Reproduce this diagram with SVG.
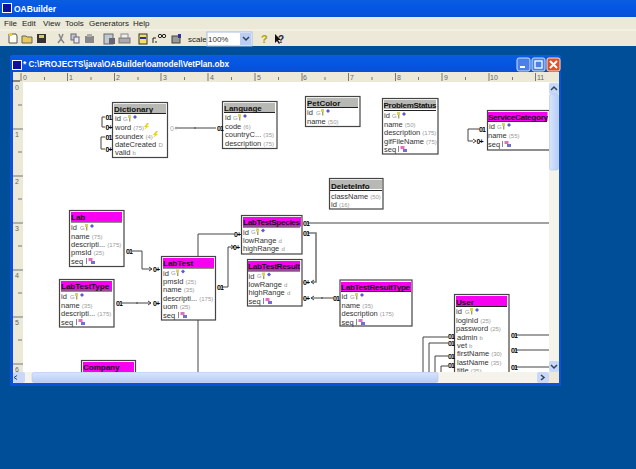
<svg xmlns="http://www.w3.org/2000/svg" xmlns:xlink="http://www.w3.org/1999/xlink" width="636" height="469" viewBox="0 0 636 469">
<style>
text{font-family:"Liberation Sans",Arial,sans-serif}
.box{fill:#fff;stroke:#444;stroke-width:1.2}
.hg{fill:#b8b8b4}.hm{fill:#f800f0}
.hl{stroke:#222;stroke-width:1}
.h{font-size:8px;font-weight:700;fill:#111}
.r{font-size:7.5px;fill:#333}
.s{font-size:6px;fill:#999}
.c{fill:none;stroke:#444;stroke-width:1}
.k{font-size:7px;font-weight:700;fill:#000;letter-spacing:-1px}
.m{font-size:8px;fill:#222}
.t{fill:#666;font-size:7px}
.tick{stroke:#777;stroke-width:1}
</style>
<defs>
<linearGradient id="tb" x1="0" y1="0" x2="0" y2="1"><stop offset="0" stop-color="#0a5ce0"/><stop offset=".5" stop-color="#0456e4"/><stop offset="1" stop-color="#0a4fd0"/></linearGradient>
<linearGradient id="sb" x1="0" y1="0" x2="0" y2="1"><stop offset="0" stop-color="#d8e4fb"/><stop offset="1" stop-color="#b6ccf6"/></linearGradient>
<linearGradient id="sv" x1="0" y1="0" x2="1" y2="0"><stop offset="0" stop-color="#d8e4fb"/><stop offset="1" stop-color="#b6ccf6"/></linearGradient>
<g id="pk"><text class="s" x="0" y="2.5" font-size="6">G</text><rect x="5" y="-3" width="3" height="3" fill="#d8d060"/><rect x="6" y="0" width="1.4" height="3.5" fill="#a8a060"/><path d="M10-1l2-2 2 2-2 2z" fill="#5a5ad0"/></g>
<g id="seq"><rect x="0" y="-3" width="1" height="6" fill="#888"/><rect x="2.5" y="-3" width="4" height="3" fill="#e070c0"/><rect x="5" y="0" width="4" height="3" fill="#7070d0"/></g>
<path id="bolt" d="M3-4L0 0h2L0 3 5-1H3l2-3z" fill="#e8d020"/>
<g id="icon"><rect width="10" height="10" fill="#fff"/><rect x="1" y="1" width="4" height="4" fill="#1010a0"/><rect x="5" y="1" width="4" height="4" fill="#1010a0"/><rect x="1" y="5" width="8" height="4" fill="#1010a0"/></g>
</defs>

<rect width="636" height="469" fill="#004e98"/>
<rect width="636" height="17" fill="url(#tb)"/>
<use xlink:href="#icon" x="2" y="3"/>
<text x="14" y="12" font-size="8.500" font-weight="700" fill="#fff">OABuilder</text>
<rect y="17" width="636" height="29" fill="#ece9d8"/>
<line x1="0" y1="30" x2="636" y2="30" stroke="#f8f6ee"/>
<text class="m" x="4" y="26">File</text><text class="m" x="22" y="26">Edit</text><text class="m" x="43" y="26">View</text><text class="m" x="65" y="26">Tools</text><text class="m" x="89" y="26">Generators</text><text class="m" x="133" y="26">Help</text>

<g id="toolbar">
<path d="M10 34h6l1 2v7h-8v-9z" fill="#fffff0" stroke="#555"/><rect x="9" y="33" width="3" height="3" fill="#ecd020"/>
<path d="M22 36h4l1 1h5v6h-10z" fill="#e8c860" stroke="#665"/>
<rect x="37" y="34" width="9" height="9" fill="#333"/><rect x="39" y="35" width="5" height="3" fill="#d0d060"/>
<path d="M59 34l2 5 2-5M58 43l3-4 3 4" fill="none" stroke="#888" stroke-width="1.5"/>
<rect x="71" y="34" width="5" height="6" fill="#c8c8d0" stroke="#667"/><rect x="74" y="37" width="5" height="6" fill="#e8e8f0" stroke="#667"/>
<rect x="85" y="36" width="9" height="7" fill="#888"/><rect x="87" y="34" width="5" height="3" fill="#aaa"/>
<rect x="104" y="34" width="9" height="10" fill="#c0c8d0" stroke="#667"/><rect x="109" y="38" width="6" height="6" fill="#667"/>
<rect x="119" y="38" width="11" height="5" fill="#aaa" stroke="#777"/><rect x="121" y="34" width="7" height="4" fill="#eee" stroke="#888"/>
<rect x="139" y="34" width="8" height="10" fill="#f0e060" stroke="#333"/><rect x="140" y="37" width="6" height="2" fill="#3030a0"/>
<path d="M153 43v-5h3M156 41v2" fill="none" stroke="#222"/><circle cx="160" cy="36" r="1.7" fill="none" stroke="#222"/><circle cx="164" cy="36" r="1.7" fill="none" stroke="#222"/>
<rect x="172" y="36" width="8" height="7" fill="#999" stroke="#444"/><rect x="178" y="34" width="3" height="4" fill="#3030a0"/>
<text class="m" x="188" y="42" font-size="7.5" fill="#444">scale</text>
<rect x="207" y="32" width="45" height="14" fill="#fff" stroke="#a8c0e0"/>
<text x="208" y="42" font-size="8" fill="#333">100%</text>
<rect x="240" y="33" width="11" height="12" fill="#bccdf5"/><path d="M243 37l3 3 3-3" fill="none" stroke="#345" stroke-width="1.5"/>
<text x="261" y="43" font-size="11" font-weight="700" fill="#b0a000">?</text>
<path d="M275 34v9l2-2 2 3 1-1-2-3h3z" fill="#111"/><text x="278" y="43" font-size="10" font-weight="700" fill="#224">?</text>
</g>

<g id="window">
<rect x="10" y="55" width="551" height="331" rx="3" fill="#0a52dc"/>
<rect x="10" y="55" width="551" height="17" rx="3" fill="url(#tb)"/>
<use xlink:href="#icon" x="12" y="60"/>
<text x="23" y="67" font-size="8.200" font-weight="700" fill="#fff">* C:\PROJECTS\java\OABuilder\oamodel\VetPlan.obx</text>
<rect x="517" y="58" width="13" height="13" rx="2" fill="#4a80e8" stroke="#cde"/><rect x="520" y="66" width="5" height="2" fill="#fff"/>
<rect x="532" y="58" width="13" height="13" rx="2" fill="#4a80e8" stroke="#cde"/><rect x="535" y="61" width="7" height="7" fill="none" stroke="#fff" stroke-width="1.3"/>
<rect x="547" y="58" width="13" height="13" rx="2" fill="#e0502c" stroke="#fdc"/><path d="M550 61l7 7m0-7l-7 7" stroke="#fff" stroke-width="2"/>
<rect x="13" y="72" width="546" height="311" fill="#ece9d8"/>
<rect x="23" y="82" width="526" height="290" fill="#fff"/>
</g>

<g id="rulers">
<path class="tick" d="M21 73v8M67.500 73v8M114.500 73v8M161 73v8M208 73v8M255 73v8M302 73v8M348.500 73v8M395.500 73v8M442 73v8M489 73v8M535.500 73v8M44.500 77v3M91 77v3M138 77v3M184.500 77v3M231.500 77v3M278.500 77v3M325 77v3M372 77v3M418.500 77v3M465.500 77v3M512.500 77v3"/>
<path class="tick" d="M13 129h10M13 176h10M13 223h10M13 270h10M13 317h10M13 364h10M18 105h4M18 152h4M18 199h4M18 246h4M18 293h4M18 340h4"/>
<path d="M12 81h8" stroke="#222"/>
<g class="t"><text x="23" y="80">0</text><text x="69" y="80">1</text><text x="116" y="80">2</text><text x="163" y="80">3</text><text x="210" y="80">4</text><text x="257" y="80">5</text><text x="303" y="80">6</text><text x="350" y="80">7</text><text x="397" y="80">8</text><text x="444" y="80">9</text><text x="490" y="80">10</text><text x="537" y="80">11</text>
<text x="15" y="90">0</text><text x="15" y="137">1</text><text x="15" y="184">2</text><text x="15" y="231">3</text><text x="15" y="278">4</text><text x="15" y="325">5</text><text x="15" y="372">6</text></g>
</g>

<g id="connectors">
<path class="c" d="M105 117h-3v10h3M105 137h-4v12h4"/>
<path class="c" d="M175 128h41M195 127v2"/>
<path class="c" d="M479 129h-11v12h5M473 139l3 2-3 2"/>
<path class="c" d="M132 251h10v18h10M149 267l3 2-3 2"/>
<path class="c" d="M122 303h29M148 301l3 2-3 2M137 302v2"/>
<path class="c" d="M198 256v-22h36M198 320v52"/>
<path class="c" d="M222 287h6v-40h6M231 245l3 2-3 2"/>
<path class="c" d="M308 223h241"/>
<path d="M308 233h8v49h-4" fill="none" stroke="#777" stroke-width="1.6"/>
<path class="c" d="M314 280l-3 2 3 2M333 298h-22M314 296l-3 2 3 2M322 297v2"/>
<path class="c" d="M448 337h-25v35M448 343h-19v29M448 356h-13v16M448 366h-7v6"/>
<path class="c" d="M516 335h33M516 350h33M516 367h33"/>
</g>

<g id="node-dictionary">
<rect class="box" x="112.500" y="102.500" width="55" height="55"/><rect class="hg" x="114" y="104" width="52" height="9"/><line class="hl" x1="114" y1="113.500" x2="166" y2="113.500"/>
<text class="h" x="114" y="111.500">Dictionary</text>
<text class="r" x="115" y="121">id</text><use xlink:href="#pk" x="123" y="118"/>
<text class="r" x="115" y="130">word <tspan class="s">(75)</tspan></text><use xlink:href="#bolt" x="144" y="127"/>
<text class="r" x="115" y="138.500">soundex <tspan class="s">(4)</tspan></text><use xlink:href="#bolt" x="153" y="135"/>
<text class="r" x="115" y="146.500">dateCreated <tspan class="s">D</tspan></text>
<text class="r" x="115" y="155">valid <tspan class="s">b</tspan></text>
</g>
<g id="node-language">
<rect class="box" x="222.500" y="101.500" width="54.500" height="47"/><rect class="hg" x="224" y="103" width="51" height="9"/><line class="hl" x1="224" y1="112.500" x2="275" y2="112.500"/>
<text class="h" x="224" y="110.500">Language</text>
<text class="r" x="225" y="120">id</text><use xlink:href="#pk" x="233" y="117"/>
<text class="r" x="225" y="128.500">code <tspan class="s">(6)</tspan></text>
<text class="r" x="225" y="137">countryC... <tspan class="s">(35)</tspan></text>
<text class="r" x="225" y="146">description <tspan class="s">(75)</tspan></text>
</g>
<g id="node-petcolor">
<rect class="box" x="305.500" y="96.500" width="54.500" height="30"/><rect class="hg" x="307" y="98" width="51" height="9"/><line class="hl" x1="307" y1="107.500" x2="358" y2="107.500"/>
<text class="h" x="307" y="105.500">PetColor</text>
<text class="r" x="307" y="115">id</text><use xlink:href="#pk" x="316" y="112"/>
<text class="r" x="307" y="124">name <tspan class="s">(50)</tspan></text>
</g>
<g id="node-problemstatus">
<rect class="box" x="382.500" y="98.500" width="55.500" height="55.500"/><rect class="hg" x="384" y="100" width="52" height="9"/><line class="hl" x1="384" y1="110.500" x2="436" y2="110.500"/>
<text class="h" x="383.500" y="108" textLength="53">ProblemStatus</text>
<text class="r" x="384" y="118">id</text><use xlink:href="#pk" x="392" y="115"/>
<text class="r" x="384" y="126.500">name <tspan class="s">(50)</tspan></text>
<text class="r" x="384" y="135">description <tspan class="s">(175)</tspan></text>
<text class="r" x="384" y="143.500">gifFileName <tspan class="s">(75)</tspan></text>
<text class="r" x="384" y="151.500">seq</text><use xlink:href="#seq" x="398" y="149"/>
</g>
<g id="node-servicecategory">
<rect class="box" x="487.500" y="110.500" width="70" height="39.500"/><rect class="hm" x="488" y="112" width="59.500" height="9"/><line class="hl" x1="488" y1="121.500" x2="547" y2="121.500"/>
<text class="h" x="488" y="120" textLength="60">ServiceCategory</text>
<text class="r" x="489" y="129">id</text><use xlink:href="#pk" x="497" y="126"/>
<text class="r" x="488" y="138">name <tspan class="s">(55)</tspan></text>
<text class="r" x="488" y="146.500">seq</text><use xlink:href="#seq" x="502" y="144"/>
</g>
<g id="node-deleteinfo">
<rect class="box" x="329.500" y="178.500" width="53.500" height="30.500"/><rect class="hg" x="330" y="180" width="52" height="9"/><line class="hl" x1="330" y1="190.500" x2="382" y2="190.500"/>
<text class="h" x="331" y="188.500">DeleteInfo</text>
<text class="r" x="331" y="198.500">className <tspan class="s">(50)</tspan></text>
<text class="r" x="331" y="207">id <tspan class="s">(16)</tspan></text>
</g>
<g id="node-lab">
<rect class="box" x="69.500" y="210.500" width="54.500" height="56"/><rect class="hm" x="71" y="212" width="51" height="9.500"/><line class="hl" x1="71" y1="222" x2="122" y2="222"/>
<text class="h" x="71" y="220">Lab</text>
<text class="r" x="71" y="230">id</text><use xlink:href="#pk" x="80" y="227"/>
<text class="r" x="71" y="238.500">name <tspan class="s">(75)</tspan></text>
<text class="r" x="71" y="247">descripti... <tspan class="s">(175)</tspan></text>
<text class="r" x="71" y="255">pmsId <tspan class="s">(25)</tspan></text>
<text class="r" x="71" y="264">seq</text><use xlink:href="#seq" x="86" y="261"/>
</g>
<g id="node-labtesttype">
<rect class="box" x="59.500" y="279.500" width="54.500" height="47.500"/><rect class="hm" x="61" y="281" width="51" height="9.500"/><line class="hl" x1="61" y1="291" x2="112" y2="291"/>
<text class="h" x="61" y="289">LabTestType</text>
<text class="r" x="61" y="299">id</text><use xlink:href="#pk" x="70" y="296"/>
<text class="r" x="61" y="307.500">name <tspan class="s">(35)</tspan></text>
<text class="r" x="61" y="316">descripti... <tspan class="s">(175)</tspan></text>
<text class="r" x="61" y="324.500">seq</text><use xlink:href="#seq" x="76" y="322"/>
</g>
<g id="node-labtest">
<rect class="box" x="161.500" y="256.500" width="54" height="63.500"/><rect class="hm" x="163" y="258" width="51" height="9.500"/><line class="hl" x1="163" y1="268" x2="214" y2="268"/>
<text class="h" x="163" y="266">LabTest</text>
<text class="r" x="163" y="275.500">id</text><use xlink:href="#pk" x="171" y="272.500"/>
<text class="r" x="163" y="283.500">pmsId <tspan class="s">(25)</tspan></text>
<text class="r" x="163" y="292">name <tspan class="s">(35)</tspan></text>
<text class="r" x="163" y="300.500">descripti... <tspan class="s">(175)</tspan></text>
<text class="r" x="163" y="309">uom <tspan class="s">(25)</tspan></text>
<text class="r" x="163" y="317.500">seq</text><use xlink:href="#seq" x="178" y="315"/>
</g>
<g id="node-company">
<rect class="box" x="81.500" y="360.500" width="54" height="20"/><rect class="hm" x="83" y="362" width="51" height="10"/>
<text class="h" x="83" y="370">Company</text>
</g>
<g id="node-labtestspecies">
<rect class="box" x="241.500" y="215.500" width="60.500" height="38.500"/><rect class="hm" x="243" y="217" width="58" height="9.500"/><line class="hl" x1="243" y1="227" x2="300" y2="227"/>
<text class="h" x="243" y="225" textLength="57">LabTestSpecies</text>
<text class="r" x="243" y="234.500">id</text><use xlink:href="#pk" x="251" y="231.500"/>
<text class="r" x="243" y="243">lowRange <tspan class="s">d</tspan></text>
<text class="r" x="243" y="251">highRange <tspan class="s">d</tspan></text>
</g>
<g id="node-labtestresult">
<rect class="box" x="247.500" y="259.500" width="54.500" height="46.500"/><rect class="hm" x="248" y="261" width="52" height="9.500"/><line class="hl" x1="248" y1="271" x2="300" y2="271"/>
<text class="h" x="248" y="269" textLength="52">LabTestResult</text>
<text class="r" x="248.500" y="278.500">id</text><use xlink:href="#pk" x="257" y="275.500"/>
<text class="r" x="248.500" y="287">lowRange <tspan class="s">d</tspan></text>
<text class="r" x="248.500" y="295">highRange <tspan class="s">d</tspan></text>
<text class="r" x="248.500" y="304">seq</text><use xlink:href="#seq" x="263" y="301"/>
</g>
<g id="node-labtestresulttype">
<rect class="box" x="340" y="280" width="72" height="46"/><rect class="hm" x="341" y="282" width="70" height="9"/><line class="hl" x1="341" y1="291.500" x2="411" y2="291.500"/>
<text class="h" x="341" y="289.500" textLength="69">LabTestResultType</text>
<text class="r" x="341.500" y="299">id</text><use xlink:href="#pk" x="350" y="296"/>
<text class="r" x="341.500" y="307.500">name <tspan class="s">(35)</tspan></text>
<text class="r" x="341.500" y="316">description <tspan class="s">(175)</tspan></text>
<text class="r" x="341.500" y="324.500">seq</text><use xlink:href="#seq" x="356" y="322"/>
</g>
<g id="node-user">
<rect class="box" x="454.500" y="294.500" width="54.500" height="85"/><rect class="hm" x="456" y="296" width="51" height="10"/><line class="hl" x1="456" y1="306.500" x2="507" y2="306.500"/>
<text class="h" x="456" y="304.500">User</text>
<text class="r" x="456" y="314">id</text><use xlink:href="#pk" x="465" y="311"/>
<text class="r" x="456" y="322.500">loginId <tspan class="s">(25)</tspan></text>
<text class="r" x="456" y="331">password <tspan class="s">(25)</tspan></text>
<text class="r" x="457" y="339.500">admin <tspan class="s">b</tspan></text>
<text class="r" x="457" y="347.500">vet <tspan class="s">b</tspan></text>
<text class="r" x="457" y="356">firstName <tspan class="s">(30)</tspan></text>
<text class="r" x="457" y="364.500">lastName <tspan class="s">(35)</tspan></text>
<text class="r" x="457" y="372.500">title <tspan class="s">(35)</tspan></text>
</g>

<g id="cardinality">
<g class="k">
<text x="105.500" y="119.500">01</text><text x="105.500" y="130">0+</text><text x="105.500" y="139.500">01</text><text x="105.500" y="152">0+</text>
<text x="217" y="130.500">01</text><text x="479" y="131.500">01</text><text x="476.500" y="143.500">0+</text>
<text x="126" y="253.500">01</text><text x="153" y="271.500">0+</text><text x="116" y="305.500">01</text><text x="153" y="305.500">0+</text>
<text x="217" y="289.500">01</text><text x="234" y="236.500">0+</text><text x="233" y="249.500">0+</text>
<text x="303" y="225.500">01</text><text x="303" y="235.500">01</text><text x="303" y="284.500">0+</text><text x="303" y="300.500">0+</text><text x="333" y="300.500">01</text>
<text x="448" y="338.500">01</text><text x="448" y="345.500">01</text><text x="448" y="358.500">01</text><text x="448" y="367.500">01</text>
<text x="511" y="337.500">01</text><text x="511" y="352.500">01</text><text x="511" y="369.500">01</text>
</g>
<text x="170" y="130.500" font-size="7" fill="#aaa">0+</text>
</g>

<g id="scrollbars">
<rect x="13" y="372" width="536" height="11" fill="#f4f3ec"/>
<rect x="13" y="372" width="12" height="11" rx="2" fill="#c8d8fa"/>
<rect x="32" y="372.500" width="406" height="10" rx="2" fill="url(#sb)" stroke="#a8c0f0" stroke-width=".5"/>
<rect x="537" y="372" width="12" height="11" rx="2" fill="#c8d8fa"/><path d="M541 375l3 2.500-3 2.500" fill="none" stroke="#345" stroke-width="1.500"/>
<path d="M17 375.500l-3 2 3 2" fill="none" stroke="#345" stroke-width="1"/>
<rect x="549" y="82" width="10" height="290" fill="#f4f3ec"/>
<rect x="549" y="83" width="10" height="11" rx="2" fill="#c8d8fa"/><path d="M551 90l3-3 3 3" fill="none" stroke="#345" stroke-width="1.500"/>
<rect x="549.500" y="94" width="9" height="76" rx="2" fill="url(#sv)" stroke="#a8c0f0" stroke-width=".5"/>
<rect x="549" y="361" width="10" height="11" rx="2" fill="#c8d8fa"/><path d="M551 365l3 3 3-3" fill="none" stroke="#345" stroke-width="1.500"/>
<rect x="549" y="372" width="10" height="11" fill="#ece9d8"/>
<rect x="10" y="383" width="551" height="3" fill="#0a52dc"/>
</g>
</svg>
